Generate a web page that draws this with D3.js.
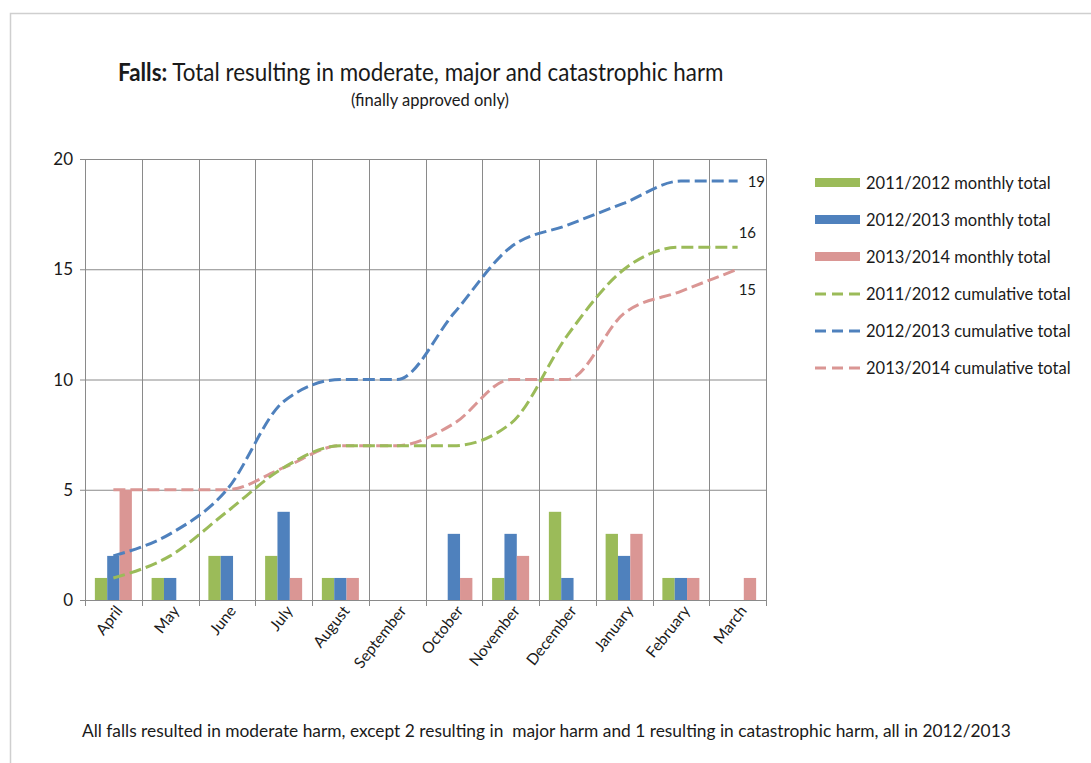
<!DOCTYPE html>
<html>
<head>
<meta charset="utf-8">
<script src="https://cdn.jsdelivr.net/npm/d3@7"></script>
<style>
  html, body { margin: 0; padding: 0; background: #fff; }
  svg { display: block; }
  text { font-family: Lato, "Open Sans", sans-serif; fill: #1a1a1a; }
</style>
</head>
<body>
<svg id="chart" width="1091" height="763"></svg>
<script>
const months = ["April","May","June","July","August","September","October","November","December","January","February","March"];
const seriesNames = ["2011/2012","2012/2013","2013/2014"];
const monthly2011 = [1,1,2,2,1,0,0,1,4,3,1,0];
const monthly2012 = [2,1,2,4,1,0,3,3,1,2,1,0];
const monthly2013 = [5,0,0,1,1,0,1,2,0,3,1,1];
const cumulative2011 = [1,2,4,6,7,7,7,8,12,15,16,16];
const cumulative2012 = [2,3,5,9,10,10,13,16,17,18,19,19];
const cumulative2013 = [5,5,5,6,7,7,8,10,10,13,14,15];
const yTicks = [0,5,10,15,20];
const colors = ["#9BBB59","#4F81BD","#DA9694"];
const endLabels = ["16","19","15"];

const svg = d3.select("#chart");

// frame
svg.append("path").attr("d","M10.5,763 L10.5,13.5 L1091,13.5")
  .attr("fill","none").attr("stroke","#cfcfcf").attr("stroke-width",1.5);

// title
const title = svg.append("text").attr("transform","translate(118,81) scale(1,1.12)").style("font-size","22.4px");
title.append("tspan").attr("font-weight","bold").text("Falls:");
title.append("tspan").text(" Total resulting in moderate, major and catastrophic harm");
svg.append("text").attr("transform","translate(430,106)").attr("text-anchor","middle")
  .style("font-size","16.5px").text("(finally approved only)");

const x = d3.scaleBand().domain(months).range([85,766]).paddingInner(0).paddingOuter(0);
const xs = d3.scaleBand().domain(seriesNames).range([0,x.bandwidth()]).paddingInner(0).paddingOuter(0.8);
const y = d3.scaleLinear().domain([0,20]).range([600,159]);

const grid = svg.append("g");
grid.selectAll("line.h").data(yTicks).join("line")
  .attr("x1",85).attr("x2",766).attr("y1",d=>y(d)+0.5).attr("y2",d=>y(d)+0.5)
  .attr("stroke","#8a8a8a").attr("stroke-width",1);
const bounds = months.map(m=>x(m)).concat([x.range()[1]]);
grid.selectAll("line.v").data(bounds).join("line")
  .attr("x1",d=>Math.round(d)+0.5).attr("x2",d=>Math.round(d)+0.5)
  .attr("y1",y(20)).attr("y2",y(0)+6)
  .attr("stroke","#8a8a8a").attr("stroke-width",1);
grid.selectAll("line.yt").data(yTicks).join("line")
  .attr("x1",80).attr("x2",85).attr("y1",d=>y(d)+0.5).attr("y2",d=>y(d)+0.5)
  .attr("stroke","#8a8a8a");

// y labels
svg.selectAll("text.yl").data(yTicks).join("text")
  .attr("x",73).attr("y",d=>y(d)+6).attr("text-anchor","end")
  .style("font-size","17px").text(d=>d);

// x labels
svg.selectAll("text.xl").data(months).join("text")
  .attr("text-anchor","end")
  .attr("transform",d=>`translate(${x(d)+x.bandwidth()/2+10},${y(0)+11}) rotate(-52)`)
  .style("font-size","15.5px").text(d=>d);

// bars
const monthlies = [monthly2011, monthly2012, monthly2013];
monthlies.forEach((arr,i)=>{
  svg.append("g").selectAll("rect").data(arr).join("rect")
    .attr("x",(d,j)=>x(months[j])+xs(seriesNames[i]))
    .attr("width",xs.bandwidth())
    .attr("y",d=>y(d)).attr("height",d=>y(0)-y(d))
    .attr("fill",colors[i]);
});

// cumulative lines
const cumulatives = [cumulative2011, cumulative2012, cumulative2013];
const line = d3.line()
  .x((d,j)=>x(months[j])+x.bandwidth()/2)
  .y(d=>y(d))
  .curve(d3.curveMonotoneX);
[2,0,1].forEach(i=>{
  svg.append("path").datum(cumulatives[i]).attr("d",line)
    .attr("fill","none").attr("stroke",colors[i]).attr("stroke-width",3)
    .attr("stroke-dasharray","12,5");
});

// end labels
const lastX = x(months[11])+x.bandwidth()/2;
const labelOffsets = [-9, 6, 26];
cumulatives.forEach((arr,i)=>{
  svg.append("text").attr("x",lastX+ (i===1?9:0) + 1).attr("y",y(arr[11])+labelOffsets[i])
    .style("font-size","15px").text(endLabels[i]);
});

// legend
const legendLabels = [
  "2011/2012 monthly total","2012/2013 monthly total","2013/2014 monthly total",
  "2011/2012 cumulative total","2012/2013 cumulative total","2013/2014 cumulative total"];
const lg = svg.append("g");
legendLabels.forEach((t,k)=>{
  const yy = 183 + k*37;
  const c = colors[k%3];
  if (k<3) {
    lg.append("rect").attr("x",815).attr("y",yy-5).attr("width",45).attr("height",9).attr("fill",c);
  } else {
    lg.append("line").attr("x1",815).attr("x2",860).attr("y1",yy).attr("y2",yy)
      .attr("stroke",c).attr("stroke-width",3).attr("stroke-dasharray","11,6");
  }
  lg.append("text").attr("x",866).attr("y",yy+6).style("font-size","16.5px").text(t);
});

// footnote
svg.append("text").attr("x",82).attr("y",737).style("font-size","17.35px").style("white-space","pre")
  .text("All falls resulted in moderate harm, except 2 resulting in  major harm and 1 resulting in catastrophic harm, all in 2012/2013");
</script>
</body>
</html>
